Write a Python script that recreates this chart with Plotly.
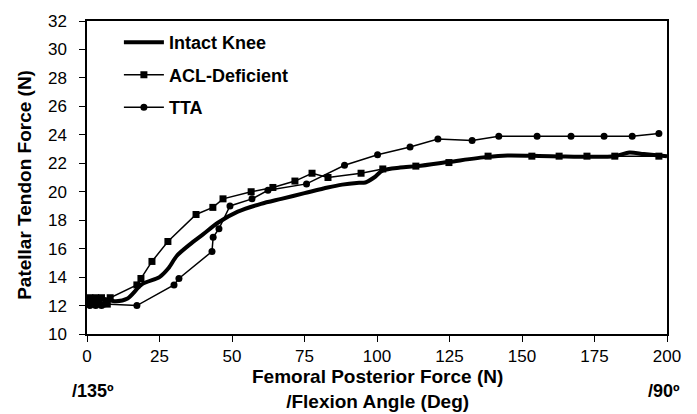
import plotly.graph_objects as go

# ---- data ----
intact_x = [0, 5, 10, 14, 19, 25, 28, 31, 35.5, 40, 45, 52, 60, 67, 75, 83, 88, 93, 96, 99, 102, 108, 114, 125, 138, 145, 160, 182, 187, 192, 200]
intact_y = [12.4, 12.5, 12.3, 12.5, 13.5, 14.0, 14.6, 15.5, 16.3, 17.0, 17.8, 18.6, 19.15, 19.5, 19.9, 20.3, 20.5, 20.62, 20.65, 21.0, 21.5, 21.7, 21.8, 22.1, 22.45, 22.55, 22.5, 22.5, 22.75, 22.65, 22.5]

acl_x = [0, 1, 2, 3, 4, 5, 7, 8, 17.2, 18.6, 22.4, 27.9, 37.6, 43.4, 46.9, 56.6, 64.1, 71.7, 77.6, 83.1, 94.5, 102, 113.4, 124.8, 138.3, 153.4, 162.8, 172.4, 182, 197.2]
acl_y = [12.3, 12.55, 12.1, 12.55, 12.1, 12.55, 12.1, 12.55, 13.45, 13.9, 15.1, 16.5, 18.4, 18.9, 19.5, 20.0, 20.3, 20.75, 21.3, 21.0, 21.3, 21.6, 21.8, 22.05, 22.5, 22.5, 22.5, 22.5, 22.5, 22.5]

tta_x = [0, 1, 2, 3, 4, 5, 6, 17.2, 30, 31.7, 43.1, 43.5, 45.5, 49.3, 56.9, 62.4, 75.7, 88.8, 100.2, 111.4, 121, 132.8, 142, 155.2, 166.9, 178.3, 188, 197.2]
tta_y = [12.3, 12.0, 12.2, 12.0, 12.2, 12.0, 12.1, 12.0, 13.45, 13.9, 15.8, 16.8, 17.4, 19.0, 19.5, 20.1, 20.55, 21.86, 22.6, 23.15, 23.7, 23.6, 23.9, 23.9, 23.9, 23.9, 23.9, 24.1]

series_names = ["Intact Knee", "ACL-Deficient", "TTA"]
x_ticks = [0, 25, 50, 75, 100, 125, 150, 175, 200]
y_ticks = [10, 12, 14, 16, 18, 20, 22, 24, 26, 28, 30, 32]
x_title = "Femoral Posterior Force (N)<br>/Flexion Angle (Deg)"
y_title = "Patellar Tendon Force (N)"
angle_labels = ["/135º", "/90º"]
angle_pos = [2, 199]

FONT = "Arial, Liberation Sans, sans-serif"

fig = go.Figure()
fig.add_trace(go.Scatter(x=intact_x, y=intact_y, mode="lines", name=series_names[0],
                         line=dict(color="black", width=4, shape="spline", smoothing=0.8),
                         legendgroup="a"))
fig.add_trace(go.Scatter(x=acl_x, y=acl_y, mode="lines+markers", name=series_names[1],
                         line=dict(color="black", width=1.5),
                         marker=dict(symbol="square", size=7, color="black"),
                         legendgroup="b"))
fig.add_trace(go.Scatter(x=tta_x, y=tta_y, mode="lines+markers", name=series_names[2],
                         line=dict(color="black", width=1.5),
                         marker=dict(symbol="circle", size=7, color="black"),
                         legendgroup="c"))

axis_common = dict(showgrid=False, zeroline=False, showline=True, linecolor="black", linewidth=1.5,
                   mirror=True, ticks="outside", ticklen=6, tickcolor="black", tickwidth=1.2,
                   tickfont=dict(family=FONT, size=17, color="black"))

fig.update_xaxes(range=[0, 200], tickvals=x_ticks, **axis_common)
fig.update_yaxes(range=[10, 32], tickvals=y_ticks, ticklabelstandoff=9, **axis_common)

fig.add_annotation(text=x_title, xref="paper", yref="paper", x=0.5, y=(334 - 390.5) / 319,
                   xanchor="center", yanchor="middle", showarrow=False,
                   font=dict(family=FONT, size=19, color="black", weight="bold"))
fig.add_annotation(text=y_title, xref="paper", yref="paper", x=(25 - 87) / 580, y=(334 - 182) / 319,
                   xanchor="center", yanchor="middle", textangle=-90, showarrow=False,
                   font=dict(family=FONT, size=19, color="black", weight="bold"))
for lab, pos in zip(angle_labels, angle_pos):
    fig.add_annotation(text=lab, xref="x", yref="paper", x=pos, y=(334 - 392) / 319,
                       xanchor="center", yanchor="middle", showarrow=False,
                       font=dict(family=FONT, size=18, color="black", weight="bold"))

fig.update_layout(
    width=697, height=414,
    margin=dict(l=87, r=30, t=15, b=80),
    paper_bgcolor="white", plot_bgcolor="white",
    showlegend=True,
    legend=dict(x=0.055, y=0.99, xanchor="left", yanchor="top", bgcolor="rgba(0,0,0,0)",
                font=dict(family=FONT, size=18, color="black", weight="bold"),
                itemwidth=40, tracegroupgap=6),
)

fig.write_html("out.html", config={"displayModeBar": False},
               post_script="document.body.style.margin='0';document.body.style.overflow='hidden';")
